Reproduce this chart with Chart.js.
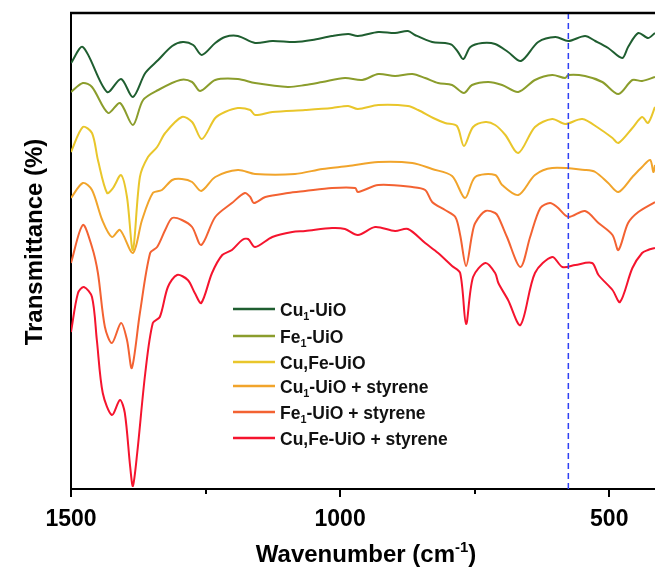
<!DOCTYPE html>
<html>
<head>
<meta charset="utf-8">
<script src="https://cdn.jsdelivr.net/npm/chart.js@4"></script>
<style>
  html, body { margin: 0; padding: 0; background: #fff; }
  #wrap { width: 655px; height: 576px; }
</style>
</head>
<body>
<div id="wrap"><canvas id="ftir"></canvas></div>
<script>
// series names (_{..} = subscript)
const seriesNames = ['Cu_{1}-UiO', 'Fe_{1}-UiO', 'Cu,Fe-UiO', 'Cu_{1}-UiO + styrene', 'Fe_{1}-UiO + styrene', 'Cu,Fe-UiO + styrene'];
const seriesColors = ['#1f5e30', '#8b9d2c', '#e9c62b', '#f1a42b', '#f36232', '#f5142e'];

// wavenumber (cm-1) / transmittance (offset, a.u.)
const wnCu = [1500,1478,1433,1407,1385,1362,1338,1312,1292,1273,1257,1232,1214,1190,1158,1126,1084,1052,1015,985,967,929,898,874,861,829,805,792,781,771,758,736,712,688,664,632,600,576,545,526,502,476,465,446,428,415];
const tCu = [426,442,397,410,392,416,429,443,447,444,434,446,452,453,446,448,447,449,453,455,453,457,456,458,454,447,446,444,437,430,442,446,445,437,428,447,452,448,453,448,441,431,442,456,451,456];

const wnFe = [1500,1478,1461,1431,1409,1385,1366,1338,1297,1275,1260,1232,1190,1158,1097,1065,1033,991,959,929,898,866,842,818,792,770,755,725,699,669,638,606,582,576,545,513,483,457,439,415];
const tFe = [397,406,402,376,386,364,389,399,409,407,398,409,410,406,402,404,407,411,409,415,413,415,411,406,404,396,404,407,404,397,409,414,411,414,413,407,395,409,408,412];

const wnCuFe = [1500,1478,1461,1450,1433,1422,1407,1396,1385,1372,1357,1340,1325,1294,1275,1257,1232,1214,1190,1167,1158,1126,1065,1015,985,967,929,874,855,827,805,783,770,753,730,712,693,669,638,606,582,550,520,494,483,457,439,428,415];
const tCuFe = [337,362,356,329,296,301,314,292,239,312,332,342,356,372,367,350,371,377,381,379,374,377,379,381,383,380,384,383,379,371,366,363,343,362,367,364,354,336,362,370,365,370,361,351,346,361,372,366,382];

const wnCuSty = [1500,1478,1461,1442,1424,1409,1385,1368,1348,1331,1312,1294,1275,1258,1232,1190,1158,1084,1033,985,929,866,829,792,768,749,712,699,669,638,606,545,526,502,483,457,439,424,418,415];
const tCuSty = [291,306,299,269,252,259,236,269,296,299,309,310,307,298,312,319,315,315,320,323,327,326,320,313,291,312,314,304,294,314,321,319,317,306,297,312,322,329,317,324];

const wnFeSty = [1500,1478,1461,1450,1437,1424,1407,1396,1387,1372,1353,1340,1325,1312,1294,1275,1258,1232,1201,1177,1167,1160,1139,1097,1065,1015,972,967,929,866,842,829,805,786,777,766,755,749,730,712,706,690,665,647,628,610,597,576,545,520,494,483,465,446,415];
const tFeSty = [226,264,242,216,162,146,166,149,121,176,236,242,259,271,269,262,244,272,286,296,292,286,292,296,298,301,301,297,304,302,299,287,279,272,254,223,254,266,278,276,272,252,222,252,281,286,282,272,278,266,254,239,266,277,287];

const wnCuFeSty = [1500,1487,1476,1461,1452,1441,1424,1409,1400,1390,1385,1377,1362,1348,1335,1320,1303,1283,1270,1258,1238,1219,1201,1182,1171,1158,1126,1089,1065,1015,991,967,935,898,874,842,818,792,777,766,753,730,712,706,688,665,638,606,587,563,532,520,494,480,457,439,428,415];
const tCuFeSty = [157,196,202,192,149,96,74,89,76,22,3,36,116,166,172,202,214,209,196,186,216,234,239,249,250,242,252,257,258,261,260,254,262,258,260,246,236,223,216,165,212,226,216,206,189,164,216,232,222,224,226,214,199,187,221,236,239,241];

const xTickValues = [1500, 1250, 1000, 750, 500];
const xTickLabels = ['1500', '', '1000', '', '500'];
const markerWn = 576;   // dashed reference line

const allWn = [wnCu, wnFe, wnCuFe, wnCuSty, wnFeSty, wnCuFeSty];
const allT = [tCu, tFe, tCuFe, tCuSty, tFeSty, tCuFeSty];

const FONT = '"Liberation Sans", Arial, sans-serif';

// draw text with _{sub} and ^{sup} parts
function richText(ctx, str, x, y, size, align) {
    const bits = [];
    str.split(/([_^]\{[^}]*\})/).forEach(s => {
        if (!s) return;
        if (s[0] === '_' || s[0] === '^') bits.push({ t: s.slice(2, -1), k: s[0] });
        else bits.push({ t: s, k: '' });
    });
    const small = size * 0.62;
    let w = 0;
    bits.forEach(b => {
        ctx.font = 'bold ' + (b.k ? small : size) + 'px ' + FONT;
        b.w = ctx.measureText(b.t).width;
        w += b.w;
    });
    let cx = align === 'center' ? x - w / 2 : x;
    bits.forEach(b => {
        ctx.font = 'bold ' + (b.k ? small : size) + 'px ' + FONT;
        const dy = b.k === '_' ? size * 0.22 : (b.k === '^' ? -size * 0.42 : 0);
        ctx.fillText(b.t, cx, y + dy);
        cx += b.w;
    });
}

const decor = {
    id: 'decor',
    afterDraw(chart) {
        const ctx = chart.ctx;
        const area = chart.chartArea;
        const xs = chart.scales.x;
        ctx.save();
        ctx.strokeStyle = '#000';
        ctx.fillStyle = '#000';

        // top frame line
        ctx.lineWidth = 2.5;
        ctx.beginPath();
        ctx.moveTo(area.left - 1, area.top);
        ctx.lineTo(area.right, area.top);
        ctx.stroke();

        // major / minor ticks on the x axis
        ctx.lineWidth = 2;
        xTickValues.forEach((v, i) => {
            const px = Math.round(xs.getPixelForValue(v));
            const len = xTickLabels[i] ? 8 : 5;
            ctx.beginPath();
            ctx.moveTo(px, area.bottom);
            ctx.lineTo(px, area.bottom + len);
            ctx.stroke();
        });

        // axis titles
        ctx.textBaseline = 'alphabetic';
        ctx.textAlign = 'left';
        richText(ctx, 'Wavenumber (cm^{-1})', 366, 562, 24, 'center');
        ctx.save();
        ctx.translate(42, 242);
        ctx.rotate(-Math.PI / 2);
        richText(ctx, 'Transmittance (%)', 0, 0, 24, 'center');
        ctx.restore();

        // legend
        const rows = [309, 336, 362, 386, 412, 438];
        seriesNames.forEach((name, i) => {
            ctx.strokeStyle = seriesColors[i];
            ctx.lineWidth = 2.5;
            ctx.beginPath();
            ctx.moveTo(233, rows[i]);
            ctx.lineTo(275, rows[i]);
            ctx.stroke();
            ctx.fillStyle = '#111';
            richText(ctx, name, 280, rows[i] + 7, 17.5, 'left');
        });
        ctx.restore();
    }
};

const datasets = seriesNames.map((name, i) => ({
    label: name,
    data: allWn[i].map((w, j) => ({ x: w, y: allT[i][j] })),
    borderColor: seriesColors[i],
    borderWidth: 2,
    pointRadius: 0,
    tension: 0.3,
    fill: false
}));

datasets.push({
    label: 'marker',
    data: [{ x: markerWn, y: 0 }, { x: markerWn, y: 476 }],
    borderColor: '#2f3ff2',
    borderWidth: 1.5,
    borderDash: [6, 4],
    pointRadius: 0,
    order: -1
});

new Chart(document.getElementById('ftir'), {
    type: 'line',
    data: { datasets: datasets },
    options: {
        responsive: true,
        maintainAspectRatio: false,
        animation: false,
        devicePixelRatio: 1,
        layout: { padding: { top: 13, right: 0, left: 0, bottom: 0 } },
        plugins: {
            legend: { display: false },
            tooltip: { enabled: false }
        },
        scales: {
            x: {
                type: 'linear',
                reverse: true,
                min: 415,
                max: 1500,
                afterFit: s => { s.height = 87; },
                grid: { display: false, drawTicks: false },
                border: { display: true, color: '#000', width: 2 },
                ticks: {
                    stepSize: 250,
                    includeBounds: false,
                    autoSkip: false,
                    maxRotation: 0,
                    padding: 17,
                    color: '#000',
                    font: { family: FONT, weight: 'bold', size: 23 },
                    callback: v => {
                        const i = xTickValues.indexOf(v);
                        return i >= 0 ? xTickLabels[i] : '';
                    }
                }
            },
            y: {
                min: 0,
                max: 476,
                afterFit: s => { s.width = 71; },
                grid: { display: false, drawTicks: false },
                border: { display: true, color: '#000', width: 2 },
                ticks: { display: false }
            }
        }
    },
    plugins: [decor]
});
</script>
</body>
</html>
